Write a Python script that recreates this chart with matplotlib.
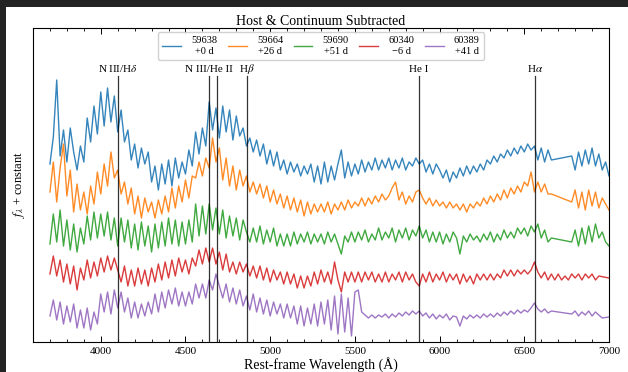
import numpy as np
import matplotlib
matplotlib.use('Agg')
import matplotlib.pyplot as plt
from matplotlib.patches import Rectangle

plt.rcParams['font.family'] = 'serif'
plt.rcParams['font.serif'] = ['Liberation Serif', 'DejaVu Serif']
plt.rcParams['mathtext.fontset'] = 'stix'

# rest-frame wavelength grid (A), 20 A sampling
wave = np.arange(3700, 7001, 20)
N = None

# flux + constant, one spectrum per epoch (arbitrary units)
flux_59638 = [
    178, 205, 262, 186, 212, 180, 214, 190, 172, 196,
    180, 224, 200, 236, 208, 250, 216, 254, 220, 246,
    210, 232, 200, 212, 182, 198, 174, 194, 178, 190,
    160, 176, 152, 178, 158, 182, 156, 184, 164, 180,
    168, 192, 176, 210, 188, 214, 196, 240, 212, 234,
    204, 236, 210, 232, 202, 226, 206, 214, 196, 204,
    190, 202, 186, 198, 178, 192, 176, 190, 172, 182,
    168, 180, 170, 178, 166, 176, 168, 178, 160, 176,
    158, 180, 160, 176, 162, 178, 192, 164, 180, 166,
    178, 168, 182, 170, 180, 172, 184, 172, 182, 174,
    184, 172, 182, 174, 184, 172, 180, 176, 184, 178,
    182, 170, 178, 168, 178, 172, 164, 172, 160, 170,
    164, 174, 166, 176, 168, 176, 170, 178, 172, 182,
    178, 186, 180, 188, 184, 192, 186, 194, 188, 196,
    190, 198, 192, 196, 182, 194, 180, 192, 182, N,
    N, N, N, N, 186, 172, 190, 176, 192, 178,
    194, 176, 188, 172, 180, 166,
]
flux_59664 = [
    150, 180, 140, 174, 198, 146, 172, 130, 158, 132,
    150, 128, 156, 138, 170, 148, 178, 156, 190, 164,
    172, 148, 160, 138, 154, 128, 146, 124, 144, 130,
    140, 124, 142, 128, 146, 130, 154, 134, 156, 140,
    162, 144, 166, 164, 180, 166, 184, 174, 204, 180,
    194, 162, 184, 156, 176, 152, 172, 156, 166, 150,
    160, 148, 158, 144, 156, 140, 152, 138, 148, 134,
    146, 132, 144, 130, 142, 126, 140, 128, 138, 130,
    138, 130, 140, 128, 138, 132, 140, 132, 142, 134,
    140, 136, 144, 136, 144, 138, 146, 140, 148, 142,
    146, 154, 160, 142, 150, 138, 146, 140, 150, 152,
    144, 138, 144, 136, 142, 136, 140, 134, 140, 134,
    138, 132, 138, 130, 138, 134, 140, 136, 144, 138,
    146, 140, 148, 142, 152, 144, 154, 148, 156, 150,
    160, 156, 170, 150, 160, 150, 158, 148, 148, N,
    N, N, N, N, 140, 152, 134, 150, 132, 152,
    136, 150, 134, 144, 138, 132,
]
flux_59690 = [
    98, 128, 100, 132, 96, 122, 92, 118, 90, 114,
    98, 126, 102, 130, 104, 128, 106, 130, 102, 124,
    96, 124, 100, 122, 94, 118, 92, 120, 96, 116,
    90, 118, 94, 120, 96, 124, 98, 122, 96, 120,
    98, 122, 100, 138, 106, 136, 108, 138, 112, 134,
    108, 132, 104, 126, 106, 124, 102, 122, 110, 100,
    114, 100, 116, 98, 112, 100, 114, 96, 108, 96,
    108, 96, 110, 98, 108, 100, 110, 98, 108, 100,
    108, 98, 110, 100, 108, 98, 88, 106, 100, 110,
    100, 110, 102, 112, 100, 108, 102, 114, 102, 110,
    104, 114, 100, 112, 104, 114, 102, 112, 106, 116,
    104, 112, 100, 110, 100, 110, 98, 108, 100, 110,
    104, 88, 106, 100, 108, 102, 106, 100, 108, 102,
    110, 100, 108, 102, 112, 104, 110, 104, 114, 108,
    114, 106, 116, 110, 118, 104, 112, 100, 104, N,
    N, N, N, N, 100, 112, 96, 114, 98, 116,
    100, 118, 104, 110, 100, 96,
]
flux_60340 = [
    68, 86, 66, 82, 60, 78, 58, 76, 52, 74,
    62, 82, 64, 80, 66, 84, 70, 86, 72, 84,
    72, 60, 76, 56, 72, 56, 74, 58, 72, 56,
    74, 60, 78, 62, 80, 64, 82, 66, 84, 70,
    82, 68, 84, 76, 92, 78, 94, 80, 94, 78,
    90, 72, 88, 70, 80, 68, 80, 70, 78, 66,
    76, 64, 76, 62, 74, 60, 72, 62, 70, 58,
    70, 58, 68, 54, 66, 54, 66, 56, 70, 58,
    72, 60, 70, 58, 80, 62, 50, 70, 60, 70,
    60, 70, 60, 70, 62, 70, 60, 68, 60, 70,
    60, 68, 62, 70, 60, 70, 62, 68, 60, 56,
    68, 60, 70, 60, 68, 62, 70, 60, 68, 62,
    68, 58, 68, 60, 66, 58, 68, 62, 68, 62,
    68, 62, 68, 64, 72, 66, 72, 66, 72, 68,
    72, 68, 72, 80, 70, 64, 70, 62, 68, 62,
    68, 62, 66, 62, 68, 64, 68, 62, 68, 64,
    68, 62, 66, N, N, 64,
]
flux_60389 = [
    26, 42, 22, 40, 18, 36, 20, 38, 14, 32,
    14, 34, 12, 30, 18, 48, 30, 50, 28, 52,
    34, 50, 30, 44, 24, 40, 24, 38, 26, 40,
    28, 48, 30, 50, 34, 52, 38, 54, 36, 50,
    36, 50, 38, 58, 44, 58, 44, 62, 52, 68,
    56, 44, 58, 40, 54, 38, 52, 36, 46, 32,
    48, 30, 44, 28, 42, 26, 40, 28, 38, 24,
    38, 24, 36, 18, 36, 16, 34, 18, 38, 16,
    40, 18, 42, 12, 46, 8, 48, 10, 44, 6,
    50, 52, 30, 27, 24, 27, 24, 27, 25, 28,
    24, 28, 25, 29, 26, 30, 27, 31, 28, 31,
    26, 29, 24, 28, 23, 27, 24, 28, 22, 26,
    25, 16, 26, 23, 27, 24, 27, 24, 28, 25,
    28, 25, 29, 26, 30, 27, 31, 28, 32, 29,
    32, 30, 34, 39, 33, 30, 33, 29, 31, N,
    N, N, N, N, 28, 31, 26, 30, 27, 31,
    26, 30, 27, 24, N, 25,
]

spectra = [flux_59638, flux_59664, flux_59690, flux_60340, flux_60389]
labels = ['59638\n+0 d', '59664\n+26 d', '59690\n+51 d',
          '60340\n\u22126 d', '60389\n+41 d']
colors = ['#1f77b4', '#ff7f0e', '#2ca02c', '#d62728', '#9467bd']

# line identifications
line_wave = [4100, 4640, 4686, 4861, 5876, 6563]
line_name = [r'N III/H$\delta$', 'N III/He II', '', r'H$\beta$', 'He I', r'H$\alpha$']

fig = plt.figure(figsize=(6.28, 3.72), dpi=100, facecolor='#232323')
fig.patches.append(Rectangle((6 / 628, 0), 1, 1 - 7 / 372, transform=fig.transFigure,
                             facecolor='white', edgecolor='none', zorder=-1))
ax = fig.add_axes([33 / 628, 30 / 372, 576 / 628, 314 / 372])

for f, lab, c in zip(spectra, labels, colors):
    f = np.array(f, dtype=float)
    ok = ~np.isnan(f)
    ax.plot(wave[ok], f[ok], color=c, lw=1.0, alpha=0.9, label=lab)

for w, name in zip(line_wave, line_name):
    ax.plot([w, w], [0, 266], color='k', lw=0.9, alpha=0.8)
    if name:
        ax.text(w, 270, name, ha='center', va='baseline', fontsize=8)

ax.set_xlim(3600, 7000)
ax.set_ylim(0, 314)
ax.set_yticks([])
ax.set_xticks([4000, 4500, 5000, 5500, 6000, 6500, 7000])
ax.set_xticks(np.arange(3700, 7000, 100), minor=True)
ax.tick_params(axis='x', which='both', direction='in', top=True, labelsize=8)
ax.tick_params(axis='x', which='major', length=4, width=0.7)
ax.tick_params(axis='x', which='minor', length=2, width=0.6)

ax.set_title('Host & Continuum Subtracted', fontsize=10, pad=2)
ax.set_xlabel('Rest-frame Wavelength (\u00c5)', fontsize=10, labelpad=1)
ax.set_ylabel(r'$f_\lambda$ + constant', fontsize=9)

leg = ax.legend(loc='upper center', ncol=5, fontsize=7.5, handlelength=1.8,
                columnspacing=1.0, borderaxespad=0.4, handletextpad=1.0,
                framealpha=0.9, fancybox=True)
for t in leg.get_texts():
    t.set_ha('center')

fig.savefig('out.png', dpi=100, facecolor=fig.get_facecolor())
